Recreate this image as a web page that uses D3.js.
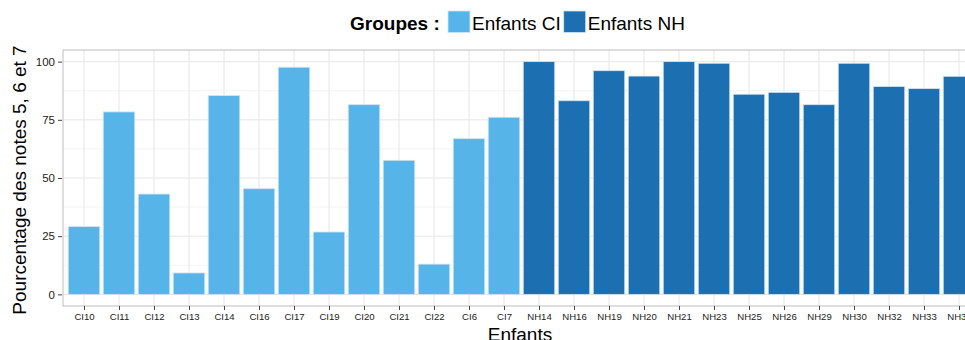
<!DOCTYPE html>
<html>
<head>
<meta charset="utf-8">
<script src="https://cdn.jsdelivr.net/npm/d3@7"></script>
<style>
  html, body { margin: 0; padding: 0; background: #fff; overflow: hidden; }
  svg { display: block; font-family: "Liberation Sans", Arial, Helvetica, sans-serif; }
</style>
</head>
<body>
<svg id="chart" width="965" height="340"></svg>
<script>
const categories = ["CI10","CI11","CI12","CI13","CI14","CI16","CI17","CI19","CI20","CI21","CI22","CI6","CI7",
                    "NH14","NH16","NH19","NH20","NH21","NH23","NH25","NH26","NH29","NH30","NH32","NH33","NH34"];
const groups = ["CI","CI","CI","CI","CI","CI","CI","CI","CI","CI","CI","CI","CI",
                "NH","NH","NH","NH","NH","NH","NH","NH","NH","NH","NH","NH","NH"];
const values = [29.1, 78.4, 43.1, 9.2, 85.4, 45.4, 97.6, 26.8, 81.5, 57.6, 13.0, 66.9, 76.1,
                100, 83.2, 96.1, 93.8, 100, 99.3, 86.0, 86.8, 81.5, 99.3, 89.3, 88.4, 93.7];
const groupKeys = ["CI","NH"];
const groupLabels = ["Enfants CI","Enfants NH"];
const yTicks = [0, 25, 50, 75, 100];
const yMinor = [12.5, 37.5, 62.5, 87.5];

const colors = { CI: "#56B4E9", NH: "#1c6fb0" };

const svg = d3.select("#chart");
const panel = { left: 63, top: 50, bottom: 306, right: 980 };

const x = d3.scalePoint().domain(categories).range([panel.left, panel.right]).padding(0.6);
const step = x.step();
const barW = step * 0.9;
const y = d3.scaleLinear().domain([-5, 105]).range([panel.bottom, panel.top]);

// panel background
svg.append("rect").attr("x", panel.left).attr("y", panel.top)
  .attr("width", panel.right - panel.left).attr("height", panel.bottom - panel.top)
  .attr("fill", "#fff");

// minor grid
svg.append("g").selectAll("line").data(yMinor).join("line")
  .attr("x1", panel.left).attr("x2", panel.right)
  .attr("y1", d => y(d)).attr("y2", d => y(d))
  .attr("stroke", "#f4f4f4").attr("stroke-width", 1);

// major grid
svg.append("g").selectAll("line").data(yTicks).join("line")
  .attr("x1", panel.left).attr("x2", panel.right)
  .attr("y1", d => y(d)).attr("y2", d => y(d))
  .attr("stroke", "#e6e6e6").attr("stroke-width", 1);
svg.append("g").selectAll("line").data(categories).join("line")
  .attr("x1", d => x(d)).attr("x2", d => x(d))
  .attr("y1", panel.top).attr("y2", panel.bottom)
  .attr("stroke", "#e6e6e6").attr("stroke-width", 1);

// bars
svg.append("g").selectAll("rect").data(categories).join("rect")
  .attr("x", d => x(d) - barW / 2)
  .attr("width", barW)
  .attr("y", (d, i) => y(values[i]))
  .attr("height", (d, i) => y(0) - y(values[i]))
  .attr("fill", (d, i) => colors[groups[i]])
  .attr("stroke", "#cfe5f5").attr("stroke-width", 0.8);

// panel border
svg.append("rect").attr("x", panel.left).attr("y", panel.top)
  .attr("width", panel.right - panel.left).attr("height", panel.bottom - panel.top)
  .attr("fill", "none").attr("stroke", "#bdbdbd").attr("stroke-width", 1);

// y axis
const yAxis = d3.axisLeft(y).tickValues(yTicks).tickSize(4).tickPadding(3);
const gy = svg.append("g").attr("transform", `translate(${panel.left - 1},0)`).call(yAxis);
gy.select(".domain").remove();
gy.selectAll(".tick line").attr("stroke", "#444");
gy.selectAll(".tick text").attr("font-size", 11.5).attr("fill", "#222")
  .attr("font-family", "Liberation Sans, Arial, sans-serif");

// x axis
const xAxis = d3.axisBottom(x).tickSize(4).tickPadding(3);
const gx = svg.append("g").attr("transform", `translate(0,${panel.bottom})`).call(xAxis);
gx.select(".domain").remove();
gx.selectAll(".tick line").attr("stroke", "#444");
gx.selectAll(".tick text").attr("font-size", 9.6).attr("fill", "#222")
  .attr("font-family", "Liberation Sans, Arial, sans-serif");

// axis titles
svg.append("text").attr("x", (panel.left + 979) / 2 - 1).attr("y", 341)
  .attr("text-anchor", "middle").attr("font-size", 19).attr("fill", "#000")
  .text("Enfants");
svg.append("text")
  .attr("transform", `translate(26,${(panel.top + panel.bottom) / 2 + 2}) rotate(-90)`)
  .attr("text-anchor", "middle").attr("font-size", 19).attr("fill", "#000")
  .text("Pourcentage des notes 5, 6 et 7");

// legend
const leg = svg.append("g");
leg.append("text").attr("x", 350).attr("y", 29.5)
  .attr("font-size", 19).attr("font-weight", "bold").attr("fill", "#000")
  .text("Groupes :");
let lx = 448;
groupKeys.forEach((k, i) => {
  leg.append("rect").attr("x", lx).attr("y", 11).attr("width", 22).attr("height", 21.5)
    .attr("fill", colors[k]).attr("stroke", "#cfe5f5").attr("stroke-width", 0.8);
  const t = leg.append("text").attr("x", lx + 24).attr("y", 29.5)
    .attr("font-size", 19).attr("fill", "#000").text(groupLabels[i]);
  lx = lx + 24 + t.node().getComputedTextLength() + 3;
});
</script>
</body>
</html>
